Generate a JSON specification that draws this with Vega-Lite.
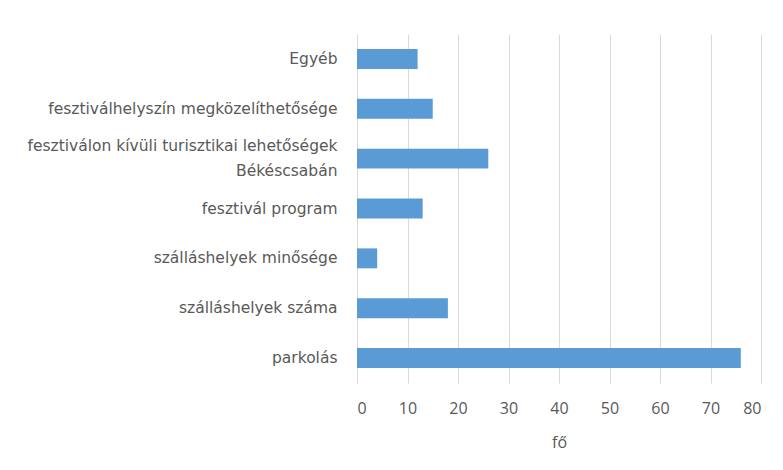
{
  "$schema": "https://vega.github.io/schema/vega-lite/v6.json",
  "width": 404,
  "height": 349,
  "autosize": {"type": "none"},
  "padding": {"left": 357, "top": 34, "right": 22, "bottom": 87},
  "background": "white",
  "data": {
    "values": [
      {"kategoria": "Egyéb", "fo": 12},
      {"kategoria": "fesztiválhelyszín megközelíthetősége", "fo": 15},
      {"kategoria": "fesztiválon kívüli turisztikai lehetőségek Békéscsabán", "fo": 26},
      {"kategoria": "fesztivál program", "fo": 13},
      {"kategoria": "szálláshelyek minősége", "fo": 4},
      {"kategoria": "szálláshelyek száma", "fo": 18},
      {"kategoria": "parkolás", "fo": 76}
    ]
  },
  "mark": {"type": "bar", "color": "#5B9BD5"},
  "encoding": {
    "y": {
      "field": "kategoria",
      "type": "nominal",
      "sort": null,
      "scale": {"paddingInner": 0.6, "paddingOuter": 0.3},
      "axis": {
        "title": null,
        "ticks": false,
        "domain": true,
        "domainColor": "#D9D9D9",
        "domainWidth": 1,
        "labelPadding": 20,
        "labelFont": "DejaVu Sans",
        "labelFontSize": 15.5,
        "labelColor": "#595959",
        "labelLimit": 400,
        "labelLineHeight": 25,
        "labelOffset": {"condition": {"test": "datum.value == 'fesztiválon kívüli turisztikai lehetőségek Békéscsabán'", "value": -12.5}, "value": 0},
        "labelExpr": "datum.value == 'fesztiválon kívüli turisztikai lehetőségek Békéscsabán' ? ['fesztiválon kívüli turisztikai lehetőségek', 'Békéscsabán'] : datum.label"
      }
    },
    "x": {
      "field": "fo",
      "type": "quantitative",
      "scale": {"domain": [0, 80], "nice": false},
      "axis": {
        "values": [0, 10, 20, 30, 40, 50, 60, 70, 80],
        "title": "fő",
        "titleFont": "Open Sans",
        "titleFontSize": 16,
        "titleFontWeight": "normal",
        "titleColor": "#595959",
        "titlePadding": 18,
        "domain": false,
        "ticks": false,
        "grid": true,
        "gridColor": "#D9D9D9",
        "gridWidth": 1,
        "labelPadding": 17,
        "labelFont": "Open Sans",
        "labelFontSize": 16,
        "labelColor": "#595959"
      }
    }
  },
  "config": {"view": {"stroke": null}}
}
